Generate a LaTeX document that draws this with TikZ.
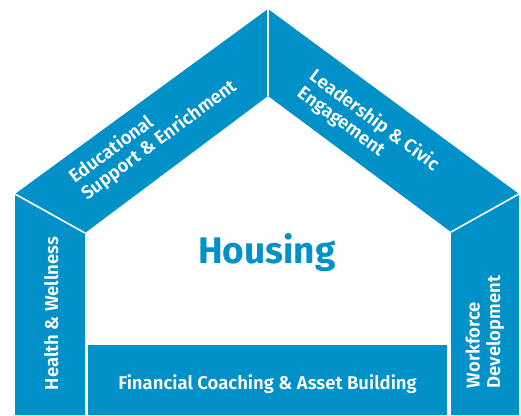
\documentclass[tikz,border=0pt]{standalone}
\usepackage{fontspec}
\setmainfont{Fira Sans}
\newfontfamily\semib{Fira Sans SemiBold}
\usepackage{xcolor}
\usetikzlibrary{positioning,calc}
\definecolor{hblue}{RGB}{0,145,200}
\colorlet{c1}{hblue}

\begin{document}
\begin{tikzpicture}[x=1pt, y=-1pt, line width=1.6pt]
\tikzstyle{txt}=[text=white, inner sep=0pt, font=\semib\fontsize{18.5}{20.5}\selectfont]
\useasboundingbox (0,0) rectangle (521,415);
% corners of the house
\coordinate (apexT) at (268,9);
\coordinate (apexB) at (268,96);
\coordinate (lOut)  at (15,194);
\coordinate (lIn)   at (85,233);
\coordinate (rOut)  at (519,194);
\coordinate (rIn)   at (451,232);
\coordinate (lFoot) at (85,415);
\coordinate (rFoot) at (451,415);
% roof and walls
\fill[c1] (lOut) -- (apexT) -- (apexB) -- (lIn) -- cycle;
\fill[c1] (apexT) -- (rOut) -- (rIn) -- (apexB) -- cycle;
\fill[c1] (lOut) -- (lIn) -- (lFoot) -- (15,415) -- cycle;
\fill[c1] (rOut) -- (519,415) -- (rFoot) -- (rIn) -- cycle;
\fill[c1] (88,345) rectangle (447,415);
% white joints
\draw[white] (apexT) -- (apexB);
\draw[white] (lOut) -- (lIn);
\draw[white] (rOut) -- (rIn);

\node[text=c1, inner sep=0pt, anchor=base, font=\bfseries\fontsize{37}{40}\selectfont] (housing) at (267,263) {Housing};
\node[txt, anchor=base] (finance) at (267.5,389) {Financial Coaching \& Asset Building};
\node[txt, anchor=base, rotate=90] (health) at (58,313.5) {Health \& Wellness};
\node[txt, align=left, rotate=90] (workforce) at (485,332) {Workforce\\Development};
\node[txt, align=left, rotate=36.5] (edu) at (153,132) {Educational\\Support \& Enrichment};
\node[txt, align=left, rotate=-36.5] (lead) at (368,129) {Leadership \& Civic\\Engagement};
\end{tikzpicture}
\end{document}
